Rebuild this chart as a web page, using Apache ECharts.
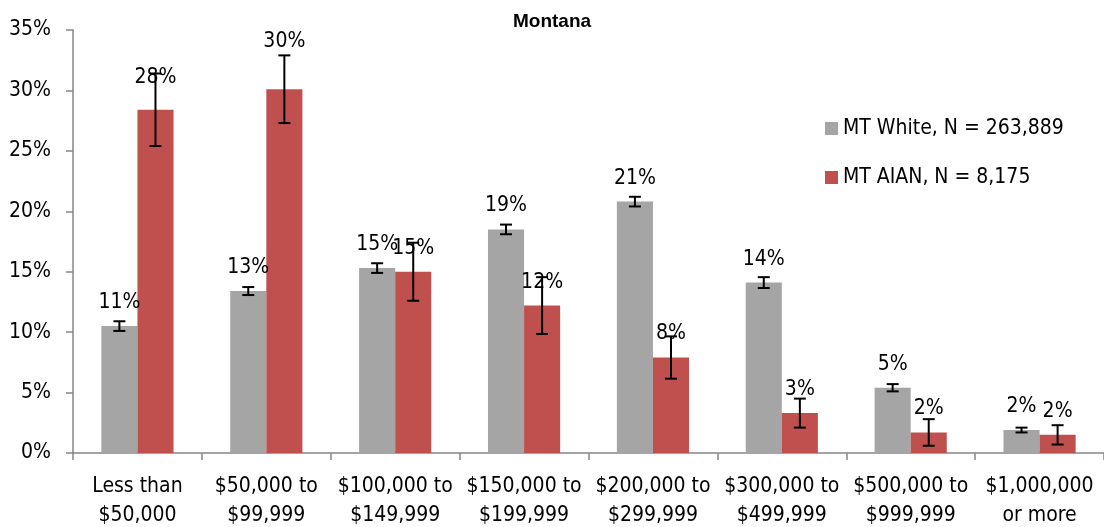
<!DOCTYPE html>
<html>
<head>
<meta charset="utf-8">
<script src="https://cdn.jsdelivr.net/npm/echarts@6/dist/echarts.min.js"></script>
<style>
  html, body { margin: 0; padding: 0; background: #fff; }
  #chart { width: 1104px; height: 527px; }
</style>
</head>
<body>
<div id="chart"></div>
<script>
// 数据
var categories = ['Less than\n$50,000', '$50,000 to\n$99,999', '$100,000 to\n$149,999', '$150,000 to\n$199,999',
  '$200,000 to\n$299,999', '$300,000 to\n$499,999', '$500,000 to\n$999,999', '$1,000,000\nor more'];
var whiteValues = [10.5, 13.4, 15.3, 18.5, 20.8, 14.1, 5.4, 1.9];
var whiteErr = [0.4, 0.33, 0.4, 0.4, 0.4, 0.45, 0.3, 0.2];
var aianValues = [28.4, 30.1, 15.0, 12.2, 7.9, 3.3, 1.7, 1.5];
var aianErr = [3.0, 2.8, 2.4, 2.35, 1.75, 1.2, 1.1, 0.8];
var yTicks = [0, 5, 10, 15, 20, 25, 30, 35];

var FONT = '"Liberation Sans Narrow", "DejaVu Sans Condensed", sans-serif';

var myChart = echarts.init(document.getElementById('chart'));

function errorSeries(values, errs, idx) {
  return {
    type: 'custom',
    z: 10,
    silent: true,
    data: values.map(function (v, i) { return [i, v - errs[i], v + errs[i]]; }),
    renderItem: function (params, api) {
      var lo = api.coord([api.value(0), api.value(1)]);
      var hi = api.coord([api.value(0), api.value(2)]);
      var band = api.size([1, 0])[0];
      var barW = band * 0.56 / 2;
      var x = lo[0] + (idx === 0 ? -barW / 2 : barW / 2);
      var cap = 6;
      var st = { stroke: '#000', lineWidth: 2 };
      return {
        type: 'group',
        children: [
          { type: 'line', shape: { x1: x, y1: lo[1], x2: x, y2: hi[1] }, style: st },
          { type: 'line', shape: { x1: x - cap, y1: lo[1], x2: x + cap, y2: lo[1] }, style: st },
          { type: 'line', shape: { x1: x - cap, y1: hi[1], x2: x + cap, y2: hi[1] }, style: st }
        ]
      };
    }
  };
}

// Excel 手动挪过的两个标签
var aianLabelDist = { 0: 22, 1: 37 };

myChart.setOption({
  animation: false,
  textStyle: { fontFamily: FONT },
  title: {
    text: 'Montana',
    left: 'center',
    top: 7,
    textStyle: { fontFamily: '"Liberation Sans", sans-serif', fontSize: 19, fontWeight: 'bold', color: '#000' }
  },
  legend: {
    orient: 'vertical',
    left: 820,
    top: 113,
    itemWidth: 13,
    itemHeight: 13,
    itemGap: 28,
    icon: 'rect',
    textStyle: { fontFamily: FONT, fontSize: 21, color: '#000' },
    data: ['MT White, N = 263,889', 'MT AIAN, N = 8,175']
  },
  grid: { left: 73, right: 0, top: 30, bottom: 74, outerBoundsMode: 'none' },
  xAxis: {
    type: 'category',
    data: categories,
    axisLine: { lineStyle: { color: '#868686', width: 1.5 } },
    axisTick: { show: true, length: 7, lineStyle: { color: '#868686', width: 1.5 } },
    axisLabel: { color: '#000', fontSize: 21, lineHeight: 29, margin: 19, fontFamily: FONT, interval: 0 }
  },
  yAxis: {
    type: 'value',
    min: yTicks[0],
    max: yTicks[yTicks.length - 1],
    interval: 5,
    splitLine: { show: false },
    axisLine: { show: true, lineStyle: { color: '#868686', width: 1.5 } },
    axisTick: { show: true, length: 7, lineStyle: { color: '#868686', width: 1.5 } },
    axisLabel: { color: '#000', fontSize: 21, margin: 22, fontFamily: FONT, formatter: '{value}%' }
  },
  series: [
    {
      name: 'MT White, N = 263,889',
      type: 'bar',
      data: whiteValues,
      barGap: '0%',
      barCategoryGap: '44%',
      itemStyle: { color: '#a5a5a5' },
      label: {
        show: true, position: 'top', distance: 13, color: '#000', fontSize: 21, fontFamily: FONT,
        formatter: function (p) { return Math.round(p.value) + '%'; }
      }
    },
    {
      name: 'MT AIAN, N = 8,175',
      type: 'bar',
      data: aianValues.map(function (v, i) {
        return aianLabelDist[i] ? { value: v, label: { distance: aianLabelDist[i] } } : v;
      }),
      itemStyle: { color: '#c0504d' },
      label: {
        show: true, position: 'top', distance: 13, color: '#000', fontSize: 21, fontFamily: FONT,
        formatter: function (p) { return Math.round(p.value) + '%'; }
      }
    },
    errorSeries(whiteValues, whiteErr, 0),
    errorSeries(aianValues, aianErr, 1)
  ]
});

window.onresize = function () {
  myChart.resize();
};
</script>
</body>
</html>
